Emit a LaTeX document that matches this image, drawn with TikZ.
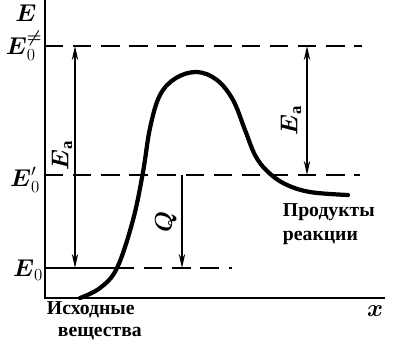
\documentclass[tikz,border=0pt]{standalone}
\usepackage{amsmath}
\usepackage{fontspec}
\setmainfont{Liberation Serif}
\usetikzlibrary{arrows.meta}

\begin{document}
\begin{tikzpicture}[x=0.025cm,y=-0.025cm,
        axis/.style={line width=2pt},
        level/.style={line width=1.6pt,dash pattern=on 13pt off 7pt},
        dim/.style={line width=1.3pt,{Stealth[length=10pt,width=4.5pt]}-{Stealth[length=10pt,width=4.5pt]}},
        down/.style={line width=1.3pt,-{Stealth[length=10pt,width=4.5pt]}},
        lab/.style={font=\bfseries\fontsize{14}{17}\selectfont},
        elab/.style={font=\fontsize{17}{19}\selectfont, inner sep=0pt}]
        \useasboundingbox (0,0) rectangle (399,344);
        % Eixos
        \coordinate (ytop) at (45,0);
        \coordinate (O) at (45,298);
        \coordinate (xend) at (385,298);
        \draw[axis] (ytop) -- (O) -- (xend);
        % Nivells d'energia
        \coordinate (Ts) at (45,46);  \coordinate (Te) at (362,46);
        \coordinate (Ps) at (45,175); \coordinate (Pe) at (360,175);
        \coordinate (Rs) at (45,268); \coordinate (Rm) at (116,268); \coordinate (Re) at (232,268);
        \draw[level] (Ts) -- (Te);
        \draw[level] (Ps) -- (Pe);
        \draw[line width=1.6pt] (Rs) -- (Rm);
        \draw[level] (Rm) -- (Re);
        % Corba de reaccio
        \draw[line width=3pt, line cap=round] plot[smooth, tension=0.6] coordinates {
            (80,298) (100,288) (117,268) (133,220) (143,172) (150,128) (160,95)
            (176,78) (197,72) (217,80) (233,100) (245,130) (255,155) (267,171)
            (285,184) (310,192) (348,195)};
        % Fletxes
        \coordinate (a1) at (75,46);   \coordinate (a2) at (75,268);
        \coordinate (q1) at (182,175); \coordinate (q2) at (182,268);
        \coordinate (b1) at (307,46);  \coordinate (b2) at (307,175);
        \draw[dim] (a1) -- (a2);
        \draw[down] (q1) -- (q2);
        \draw[dim] (b1) -- (b2);
        \node[elab, rotate=90] (ealeft) at (62,155) {$\boldsymbol{E}_{\mathbf{a}}$};
        \node[elab, rotate=90] (earight) at (291,120) {$\boldsymbol{E}_{\mathbf{a}}$};
        \node[elab, rotate=90] (qlab) at (166,222) {$\boldsymbol{Q}$};
        % Etiquetes de l'eix
        \node[elab] (eaxis) at (26,13) {$\boldsymbol{E}$};
        \node[elab] (ets) at (24,46) {$\boldsymbol{E}_0^{\boldsymbol{\ne}}$};
        \node[elab] (eprime) at (25,180) {$\boldsymbol{E}_0'$};
        \node[elab] (ezero) at (28,270) {$\boldsymbol{E}_0$};
        \node[elab] (xlab) at (375,311) {$\boldsymbol{x}$};
        \node[lab, anchor=west, align=left] (prod) at (278,224) {Продукты\\реакции};
        \node[lab, anchor=west] (ish) at (42,310) {Исходные};
        \node[lab, anchor=west] (vesh) at (53,334) {вещества};
    \end{tikzpicture}
\end{document}
